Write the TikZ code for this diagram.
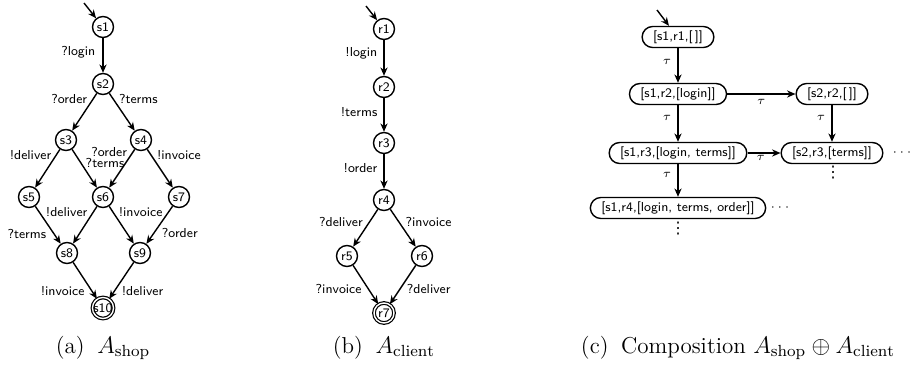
\documentclass[tikz,border=0pt]{standalone}
\usepackage{fontspec}
\newfontfamily\dejavu{DejaVu Sans}
\usetikzlibrary{arrows.meta}
\begin{document}
\begin{tikzpicture}[x=0.5pt,y=-0.5pt,
  st/.style={circle,draw,line width=0.7pt,minimum size=10.5pt,inner sep=0pt,font=\fontsize{6.5}{7.5}\selectfont\sffamily},
  fin/.style={st,double,double distance=0.7pt,line width=0.6pt,minimum size=10pt},
  cs/.style={draw,rounded corners=5.25pt,line width=0.7pt,minimum height=10.5pt,inner xsep=5.5pt,inner ysep=0pt,font=\fontsize{6.5}{7.5}\selectfont\sffamily},
  tr/.style={-{Stealth[length=4.2pt,width=3.6pt]},line width=0.7pt},
  lab/.style={inner sep=1pt,font=\fontsize{6.5}{7.5}\selectfont\sffamily},
  captxt/.style={inner sep=0pt,anchor=base,font=\fontsize{11.5}{14}\selectfont},
  dts/.style={inner sep=0pt,font=\fontsize{6.5}{7.5}\selectfont},
  vdts/.style={inner sep=0pt,font=\fontsize{8}{9}\selectfont\dejavu}
]
\useasboundingbox (0,0) rectangle (918,365);

% ---------- (a) shop ----------
\node[st] (s1) at (103,27) {s1};
\node[st] (s2) at (103,84) {s2};
\node[st] (s3) at (66,140) {s3};
\node[st] (s4) at (141,140) {s4};
\node[st] (s5) at (29,197) {s5};
\node[st] (s6) at (103,197) {s6};
\node[st] (s7) at (179,197) {s7};
\node[st] (s8) at (67,253) {s8};
\node[st] (s9) at (140,253) {s9};
\node[fin] (s10) at (103,308) {s10};
\coordinate (s1in) at (84,3);
\draw[tr] (s1in) -- (s1);
\draw[tr] (s1) -- node[lab,pos=.4,left=2.5pt]{?login} (s2);
\draw[tr] (s2) -- node[lab,pos=.16,left=1.5pt]{?order} (s3);
\draw[tr] (s2) -- node[lab,pos=.16,right=1.5pt]{?terms} (s4);
\draw[tr] (s3) -- node[lab,pos=.16,left=1pt]{!deliver} (s5);
\draw[tr] (s3) -- node[lab,pos=.36,right=1pt]{?terms} (s6);
\draw[tr] (s4) -- node[lab,pos=.08,left=1.5pt]{?order} (s6);
\draw[tr] (s4) -- node[lab,pos=.16,right=1.5pt]{!invoice} (s7);
\draw[tr] (s5) -- node[lab,pos=.73,left=2.5pt]{?terms} (s8);
\draw[tr] (s6) -- node[lab,pos=.16,left=1.5pt]{!deliver} (s8);
\draw[tr] (s6) -- node[lab,pos=.16,right=1.5pt]{!invoice} (s9);
\draw[tr] (s7) -- node[lab,pos=.7,right=2.5pt]{?order} (s9);
\draw[tr] (s8) -- node[lab,pos=.8,left=2.5pt]{!invoice} (s10);
\draw[tr] (s9) -- node[lab,pos=.8,right=2.5pt]{!deliver} (s10);
\node[captxt] (capa) at (103,353) {(a)\hspace{0.55em}$A_{\mathrm{shop}}$};

% ---------- (b) client ----------
\node[st] (r1) at (384,29) {r1};
\node[st] (r2) at (384,87) {r2};
\node[st] (r3) at (384,143) {r3};
\node[st] (r4) at (384,200) {r4};
\node[st] (r5) at (347,256) {r5};
\node[st] (r6) at (422,256) {r6};
\node[fin] (r7) at (384,313) {r7};
\coordinate (r1in) at (366,6);
\draw[tr] (r1in) -- (r1);
\draw[tr] (r1) -- node[lab,pos=.36,left=2pt]{!login} (r2);
\draw[tr] (r2) -- node[lab,pos=.41,left=2pt]{!terms} (r3);
\draw[tr] (r3) -- node[lab,pos=.4,left=2pt]{!order} (r4);
\draw[tr] (r4) -- node[lab,pos=.34,left=2pt]{?deliver} (r5);
\draw[tr] (r4) -- node[lab,pos=.34,right=2pt]{?invoice} (r6);
\draw[tr] (r5) -- node[lab,pos=.6,left=2pt]{?invoice} (r7);
\draw[tr] (r6) -- node[lab,pos=.6,right=2pt]{?deliver} (r7);
\node[captxt] (capb) at (384,353) {(b)\hspace{0.55em}$A_{\mathrm{client}}$};

% ---------- (c) composition ----------
\node[cs] (c1) at (678,37) {[s1,r1,[\,]]};
\node[cs] (c2) at (678,94) {[s1,r2,[login]]};
\node[cs] (c3) at (832,94) {[s2,r2,[\,]]};
\node[cs] (c4) at (678,153) {[s1,r3,[login, terms]]};
\node[cs] (c5) at (832,153) {[s2,r3,[terms]]};
\node[cs] (c6) at (678,208) {[s1,r4,[login, terms, order]]};
\node[dts] (d5) at (902,153) {$\cdots$};
\node[vdts] (v5) at (833,173) {⋮};
\node[dts] (d6) at (780,208) {$\cdots$};
\node[vdts] (v6) at (678,229) {⋮};
\coordinate (c1in) at (657,10);
\draw[tr] (c1in) -- ([xshift=-4.5pt]c1.north);
\draw[tr] (c1) -- node[lab,pos=.4,left=2pt]{$\tau$} (c2);
\draw[tr] (c2) -- node[lab,pos=.5,below=1.5pt]{$\tau$} (c3);
\draw[tr] (c2) -- node[lab,pos=.35,left=2pt]{$\tau$} (c4);
\draw[tr] (c3) -- node[lab,pos=.35,left=2pt]{$\tau$} (c5);
\draw[tr] (c4) -- node[lab,pos=.4,below=0pt]{$\tau$} (c5);
\draw[tr] (c4) -- node[lab,pos=.34,left=2pt]{$\tau$} (c6);
\node[captxt] (capc) at (738,353) {(c)\hspace{0.55em}Composition $A_{\mathrm{shop}}\oplus A_{\mathrm{client}}$};
\end{tikzpicture}
\end{document}
